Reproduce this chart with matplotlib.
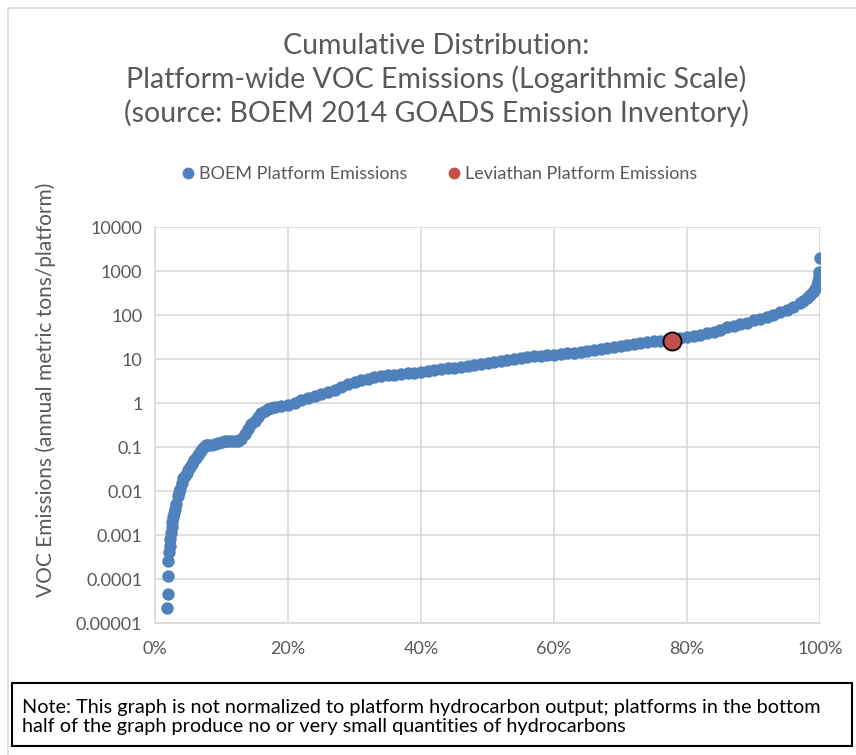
import matplotlib.pyplot as plt
from matplotlib.lines import Line2D
from matplotlib.patches import Rectangle
from matplotlib.ticker import FixedLocator, FixedFormatter, NullLocator

# cumulative share of platforms (%) and platform-wide VOC emissions (tons/yr)
pct = [
    1.8, 1.9, 2.0, 2.0, 2.1, 2.2, 2.3, 2.4, 2.5, 2.6, 2.7, 2.8, 3.0, 3.2, 3.4,
    3.6, 3.8, 4.0, 4.2, 4.5, 4.8, 5.0, 5.3, 5.6, 5.9, 6.2, 6.5, 6.8, 7.1, 7.4,
    7.7, 8.0, 8.5, 9.0, 9.5, 10.0, 10.5, 11.0, 11.5, 12.0, 12.5, 13.0, 13.5,
    14.0, 14.5, 15.0, 15.5, 16.0, 16.5, 17.0, 17.5, 18.0, 19.0, 20.0, 21.0,
    22.0, 23.0, 24.0, 25.0, 26.0, 27.0, 28.0, 29.0, 30.0, 31.0, 32.0, 33.0,
    34.0, 35.0, 36.0, 37.0, 38.0, 39.0, 40.0, 41.0, 42.0, 43.0, 44.0, 45.0,
    46.0, 47.0, 48.0, 49.0, 50.0, 51.0, 52.0, 53.0, 54.0, 55.0, 56.0, 57.0,
    58.0, 59.0, 60.0, 61.0, 62.0, 63.0, 64.0, 65.0, 66.0, 67.0, 68.0, 69.0,
    70.0, 71.0, 72.0, 73.0, 74.0, 75.0, 76.0, 77.0, 78.0, 79.0, 80.0, 81.0,
    82.0, 83.0, 84.0, 85.0, 86.0, 87.0, 88.0, 89.0, 90.0, 91.0, 92.0, 93.0,
    94.0, 95.0, 96.0, 97.0, 97.5, 98.0, 98.5, 99.0, 99.3, 99.5, 99.7, 99.8,
    99.9, 100.0,
]
voc = [
    2.2e-5, 4.5e-5, 1.2e-4, 2.6e-4, 4.1e-4, 5.5e-4, 8e-4, 1.1e-3, 1.5e-3,
    2.0e-3, 2.6e-3, 3.2e-3, 4.0e-3, 5.0e-3, 7.5e-3, 9.5e-3, 0.011, 0.015,
    0.02, 0.022, 0.025, 0.03, 0.035, 0.042, 0.05, 0.056, 0.065, 0.075, 0.088,
    0.1, 0.11, 0.11, 0.11, 0.12, 0.125, 0.13, 0.14, 0.14, 0.14, 0.14, 0.14,
    0.15, 0.2, 0.26, 0.33, 0.4, 0.48, 0.58, 0.66, 0.72, 0.77, 0.8, 0.85, 0.9,
    1.0, 1.2, 1.3, 1.45, 1.6, 1.75, 2.0, 2.3, 2.7, 3.0, 3.3, 3.6, 3.9, 4.1,
    4.3, 4.4, 4.55, 4.7, 4.85, 5.0, 5.2, 5.5, 5.8, 6.2, 6.4, 6.6, 6.9, 7.3,
    7.6, 8.0, 8.4, 8.8, 9.3, 9.8, 10.4, 11.0, 11.4, 11.8, 12.2, 12.5, 13.0,
    13.5, 14.0, 14.5, 15.3, 16.0, 17.0, 18.0, 19.0, 20.0, 21.0, 22.0, 23.0,
    24.0, 25.0, 26.0, 27.0, 28.0, 30.0, 32.0, 34.0, 36.0, 39.0, 42.0, 46.0,
    52.0, 56.0, 61.0, 67.0, 75.0, 82.0, 90.0, 100.0, 115.0, 130.0, 150.0,
    185.0, 205.0, 240.0, 280.0, 340.0, 400.0, 470.0, 600.0, 750.0, 950.0,
    2000.0,
]
lev_pct = [77.8]
lev_voc = [26.0]

y_ticks = [1e-5, 1e-4, 1e-3, 1e-2, 1e-1, 1, 10, 100, 1000, 10000]
y_labels = ["0.00001", "0.0001", "0.001", "0.01", "0.1", "1", "10", "100", "1000", "10000"]
x_ticks = [0, 20, 40, 60, 80, 100]
x_labels = ["0%", "20%", "40%", "60%", "80%", "100%"]

BLUE = "#4f81bd"
RED = "#c0504d"
GREY = "#595959"

plt.rcParams["font.family"] = ["Lato", "DejaVu Sans"]

fig = plt.figure(figsize=(8.56, 7.55), dpi=100)
ax = fig.add_axes([155 / 856, 1 - 623 / 755, 665 / 856, 396 / 755])

ax.scatter(pct, voc, s=80, color=BLUE, linewidths=0, zorder=3)
ax.scatter(lev_pct, lev_voc, s=170, color=RED, edgecolors="black", linewidths=1.3, zorder=4)

ax.set_yscale("log")
ax.set_ylim(1e-5, 1e4)
ax.set_xlim(0, 100)
ax.yaxis.set_major_locator(FixedLocator(y_ticks))
ax.yaxis.set_major_formatter(FixedFormatter(y_labels))
ax.yaxis.set_minor_locator(NullLocator())
ax.set_xticks(x_ticks)
ax.set_xticklabels(x_labels)
ax.tick_params(length=0, labelsize=13, colors=GREY, pad=9)
ax.tick_params(axis="x", pad=13)
ax.grid(True, color="#d9d9d9", linewidth=1.2)
ax.set_axisbelow(True)
for side in ["top", "right"]:
    ax.spines[side].set_visible(False)
for side in ["left", "bottom"]:
    ax.spines[side].set_color("#d9d9d9")
    ax.spines[side].set_linewidth(1.2)

ax.set_ylabel("VOC Emissions (annual metric tons/platform)", fontsize=15, color=GREY)
ax.yaxis.set_label_coords((56 - 155) / 665, (623 - 390) / 396)

fig.text(436 / 856, 1 - 80 / 755,
         "Cumulative Distribution:\nPlatform-wide VOC Emissions (Logarithmic Scale)\n(source: BOEM 2014 GOADS Emission Inventory)",
         ha="center", va="center", fontsize=20.5, color=GREY, linespacing=1.3)

handles = [
    Line2D([], [], linestyle="none", marker="o", markersize=7.5, color=BLUE),
    Line2D([], [], linestyle="none", marker="o", markersize=7.5, color=RED),
]
fig.legend(handles, ["BOEM Platform Emissions", "Leviathan Platform Emissions"],
           loc="center", bbox_to_anchor=(437 / 856, 1 - 174 / 755), ncol=2, frameon=False,
           fontsize=13, labelcolor=GREY, handletextpad=0.0, columnspacing=2.0,
           handlelength=1.2)

# outer chart border and the note box
fig.patches.append(Rectangle((8 / 856, -0.02), 1.1, 1 - 8 / 755 + 0.02, transform=fig.transFigure,
                             fill=False, edgecolor="#d9d9d9", linewidth=1.2))
fig.patches.append(Rectangle((12 / 856, 1 - 746 / 755), 840 / 856, 63 / 755, transform=fig.transFigure,
                             facecolor="white", edgecolor="black", linewidth=1.5))
fig.text(22 / 856, 1 - 717 / 755,
         "Note: This graph is not normalized to platform hydrocarbon output; platforms in the bottom\nhalf of the graph produce no or very small quantities of hydrocarbons",
         ha="left", va="center", fontsize=14.3, color="black", linespacing=1.1)

fig.savefig("out.png", dpi=100)
